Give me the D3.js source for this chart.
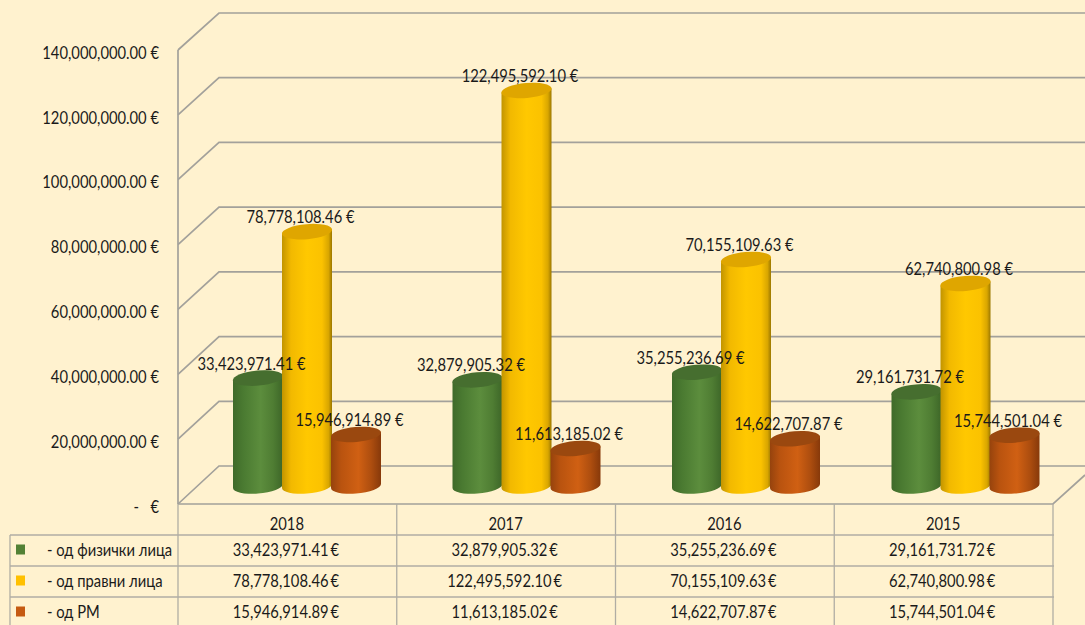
<!DOCTYPE html>
<html><head><meta charset="utf-8">
<script src="https://cdn.jsdelivr.net/npm/d3@7"></script>
<style>
html,body{margin:0;padding:0;background:#FFF2CF;overflow:hidden}
svg{display:block}
text{font-family:Lato,"Open Sans",sans-serif;font-size:18px;fill:#1a1a1a}
</style></head><body>
<svg id="c" width="1085" height="625"></svg>
<script>
const years = ["2018","2017","2016","2015"];
const seriesNames = ["- од физички лица","- од правни лица","- од РМ"];
const individuals = [33423971.41,32879905.32,35255236.69,29161731.72];
const legalEntities = [78778108.46,122495592.10,70155109.63,62740800.98];
const republic = [15946914.89,11613185.02,14622707.87,15744501.04];
const yTicks = [0,20000000,40000000,60000000,80000000,100000000,120000000,140000000];
const seriesValues = [individuals,legalEntities,republic];
const palette = [
 {stops:[[0,"#3f6a2a"],[.2,"#4a7a31"],[.55,"#5c8d3d"],[.8,"#4f7d33"],[1,"#3d6628"]],top:"#466e2f",sw:"#538135"},
 {stops:[[0,"#c29400"],[.18,"#f2b900"],[.5,"#ffc800"],[.8,"#fbc200"],[.93,"#d9a600"],[1,"#9c7800"]],top:"#dfa600",sw:"#ffc000"},
 {stops:[[0,"#96430d"],[.2,"#b9530f"],[.55,"#d06013"],[.8,"#ae4e0f"],[1,"#87390a"]],top:"#9a480f",sw:"#c55a11"}
];
const svg = d3.select("#c");
const grid = "#a3a19b", tline = "#b0ada4";
const fmt = d3.format(",.2f");
const W = 1085;
const front = d3.scaleLinear().domain([0,140000000]).range([504,50]);
const back = d3.scaleLinear().domain([0,140000000]).range([466,13]);
const barY = d3.scaleLinear().domain([0,140000000]).range([486,34]);
const col = d3.scaleBand().domain(years).range([178,1053]);
const barCol = d3.scaleBand().domain(years).range([197.25,1075.25]);
const rowY = d3.scaleBand().domain(seriesNames).range([535,628]);
const dx = 41;
const K = .82;
function squeeze(sel,k){sel.each(function(){
  const n=this.getComputedTextLength();
  d3.select(this).attr("textLength",n*k).attr("lengthAdjust","spacingAndGlyphs");
});return sel;}

// gradients
const defs = svg.append("defs");
palette.forEach((p,i)=>{
  const g = defs.append("linearGradient").attr("id","g"+i);
  p.stops.forEach(s=>g.append("stop").attr("offset",s[0]).attr("stop-color",s[1]));
});

// walls
const gridG = svg.append("g").attr("fill","none").attr("stroke",grid).attr("stroke-width",1.7);
yTicks.forEach(t=>{
  gridG.append("path").attr("d",d3.line()([[178,front(t)],[178+dx,back(t)],[W,back(t)]]));
});
gridG.append("line").attr("x1",178).attr("x2",178).attr("y1",front(140000000)).attr("y2",front(0));
gridG.append("path").attr("d",d3.line()([[178,front(0)],[1053,front(0)],[W,front(0)-29]]));

// y axis
const axis = d3.axisLeft(front).tickValues(yTicks).tickSize(0).tickPadding(0)
  .tickFormat(d=>d===0?"-\u00a0\u00a0\u00a0€":fmt(d)+" €");
const ag = svg.append("g").attr("transform","translate(159,2.5)").call(axis);
ag.select(".domain").remove();
ag.attr("font-family",null).attr("font-size",null);
squeeze(ag.selectAll("text"),K);

// cylinders
const bw = 50, ry = 7.5, tilt = -5;
const off = [-49,0,49];
const center = (y,i)=>barCol(y)+barCol.bandwidth()/2+off[i];
const bars = svg.append("g");
seriesValues.forEach((vals,i)=>{
  const g = bars.append("g");
  vals.forEach((v,j)=>{
    const cx = center(years[j],i), t = barY(v), b = barY(0);
    const rise = 2;
    g.append("path")
      .attr("d",`M${cx-bw/2},${t+rise}L${cx-bw/2},${b+rise}A${bw/2},${ry} ${tilt} 0 0 ${cx+bw/2},${b-rise}L${cx+bw/2},${t-rise}Z`)
      .attr("fill",`url(#g${i})`);
    g.append("ellipse").attr("cx",cx).attr("cy",t).attr("rx",bw/2+.2).attr("ry",ry)
      .attr("transform",`rotate(${tilt} ${cx} ${t})`).attr("fill",palette[i].top);
  });
});

// data labels
const lab = svg.append("g");
seriesValues.forEach((vals,i)=>vals.forEach((v,j)=>{
  lab.append("text").attr("x",center(years[j],i)-6.5).attr("y",barY(v)-13)
    .attr("text-anchor","middle").attr("dominant-baseline","middle")
    .text(fmt(v)+" €");
}));
squeeze(lab.selectAll("text"),K);

// table
const tb = svg.append("g").attr("stroke",tline).attr("stroke-width",1.3);
[...years.map(y=>col(y)),1053].forEach(x=>tb.append("line").attr("x1",x).attr("x2",x).attr("y1",504).attr("y2",625));
tb.append("line").attr("x1",10).attr("x2",10).attr("y1",535).attr("y2",625);
seriesNames.forEach(s=>tb.append("line").attr("x1",10).attr("x2",1054).attr("y1",rowY(s)).attr("y2",rowY(s)));
const tt = svg.append("g");
years.forEach(y=>tt.append("text").attr("x",col(y)+col.bandwidth()/2-.5).attr("y",525)
  .attr("text-anchor","middle").attr("dominant-baseline","middle").text(y));
seriesNames.forEach((s,i)=>{
  const yc = rowY(s)+rowY.bandwidth()/2;
  svg.append("rect").attr("x",16).attr("y",yc-6).attr("width",9).attr("height",10).attr("fill",palette[i].sw);
  tt.append("text").attr("x",47).attr("y",yc+1).attr("dominant-baseline","middle").text(s);
  seriesValues[i].forEach((v,j)=>{
    tt.append("text").attr("x",col(years[j])+col.bandwidth()/2-1.5).attr("y",yc+1)
      .attr("text-anchor","middle").attr("dominant-baseline","middle").text(fmt(v)+"\u2009€");
  });
});
squeeze(tt.selectAll("text"),K);
</script></body></html>
